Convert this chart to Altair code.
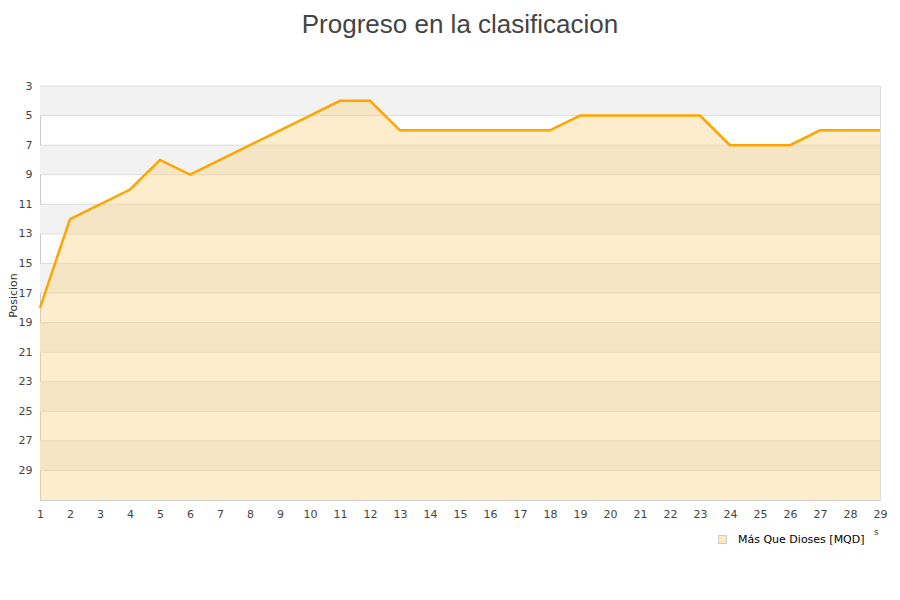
import altair as alt
import pandas as pd

jornadas = list(range(1, 30))
posiciones = [18, 12, 11, 10, 8, 9, 8, 7, 6, 5, 4, 4, 6, 6, 6, 6, 6, 6,
              5, 5, 5, 5, 5, 7, 7, 7, 6, 6, 6]
equipo = "Más Que Dioses [MQD]"
y_ticks = list(range(3, 30, 2))
band_starts = [3, 7, 11, 15, 19, 23, 27]

data = pd.DataFrame({"jornada": jornadas, "posicion": posiciones,
                     "fondo": [31] * len(jornadas), "equipo": equipo})
bands = pd.DataFrame({"y1": band_starts, "y2": [b + 2 for b in band_starts],
                      "x1": [1] * len(band_starts), "x2": [29] * len(band_starts)})

x_scale = alt.Scale(domain=[1, 29], nice=False, zero=False)
y_scale = alt.Scale(domain=[3, 31], reverse=True, nice=False, zero=False)

x_axis = alt.Axis(values=jornadas, format="d", title="s",
                  titleAnchor="end", titleFontSize=9,
                  titleFontWeight="normal", titleColor="#444",
                  titleX=838, titleY=27,
                  labelFontSize=11, labelColor="#444",
                  labelFont="DejaVu Sans", ticks=False,
                  labelOverlap=False, labelFlush=False,
                  labelPadding=8, domainColor="#cccccc",
                  grid=False)
y_axis = alt.Axis(values=y_ticks, format="d", title="Posicion",
                  titleFontSize=11, titleFontWeight="normal",
                  titleFont="DejaVu Sans", titleColor="#333",
                  titleX=-27, titleY=209, titleAngle=-90,
                  titleAlign="center", titleBaseline="middle",
                  labelFontSize=11, labelColor="#444",
                  labelFont="DejaVu Sans", ticks=False,
                  labelOverlap=False, labelFlush=False,
                  labelPadding=8, domainColor="#cccccc",
                  grid=False)

bg = (alt.Chart(bands).mark_rect(color="#f2f2f2")
      .encode(x=alt.X("x1:Q", scale=x_scale, axis=x_axis), x2="x2:Q",
              y=alt.Y("y1:Q", scale=y_scale, axis=y_axis), y2="y2:Q"))

grid = (alt.Chart(pd.DataFrame({"t": y_ticks})).mark_rule(color="#dddddd", strokeWidth=1)
        .encode(y=alt.Y("t:Q", scale=y_scale, axis=y_axis)))

area = (alt.Chart(data).mark_area(opacity=0.4, interpolate="linear")
        .encode(x=alt.X("jornada:Q", scale=x_scale, axis=x_axis),
                y=alt.Y("posicion:Q", scale=y_scale, axis=y_axis),
                y2="fondo:Q",
                color=alt.Color("equipo:N",
                                scale=alt.Scale(range=["#fcd282"]),
                                legend=alt.Legend(title=None, orient="none",
                                                  legendX=677, legendY=448,
                                                  symbolType="square", symbolSize=64,
                                                  symbolStrokeColor="#999",
                                                  symbolStrokeWidth=1,
                                                  symbolOpacity=0.5,
                                                  labelOffset=10,
                                                  labelFontSize=11,
                                                  labelFont="DejaVu Sans",
                                                  labelColor="#000"))))

line = (alt.Chart(data).mark_line(color="#ffa500", strokeWidth=2.5)
        .encode(x=alt.X("jornada:Q", scale=x_scale, axis=x_axis),
                y=alt.Y("posicion:Q", scale=y_scale, axis=y_axis)))

chart = (alt.layer(bg, grid, area, line)
         .properties(width=840, height=414,
                     title=alt.TitleParams("Progreso en la clasificacion",
                                           fontSize=26, font="Liberation Sans",
                                           fontWeight="normal", color="#444",
                                           anchor="middle", offset=42),
                     autosize=alt.AutoSizeParams(type="none"),
                     padding={"left": 32, "top": 78, "right": 12, "bottom": 92})
         .configure_view(stroke="#dddddd")
         .configure(background="white"))

chart.save("out.html", embed_options={"renderer": "svg", "actions": False})
